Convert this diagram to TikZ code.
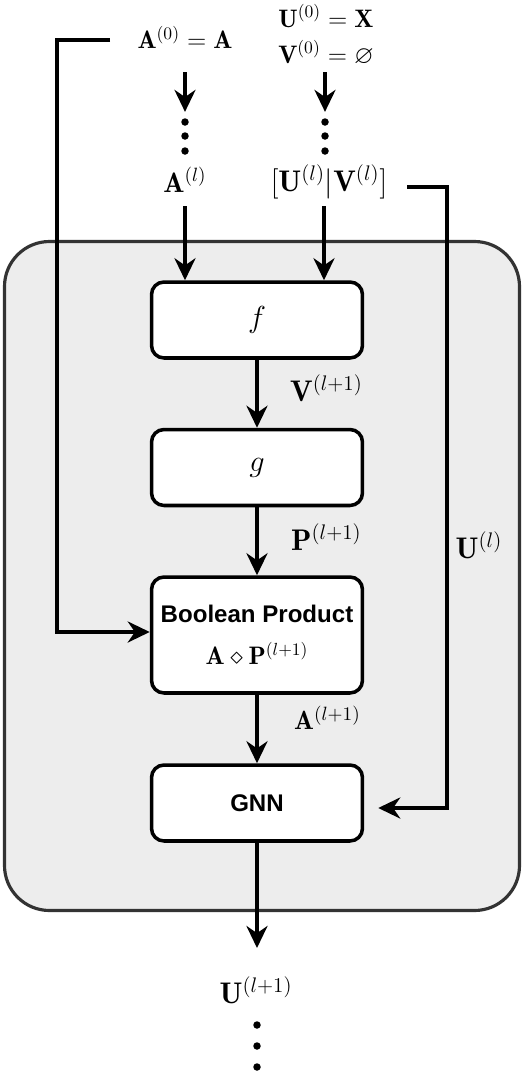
\documentclass[tikz,border=0pt]{standalone}
\usepackage{amsmath,amssymb}
\usepackage{fontspec}
\newfontfamily\blockfont{Liberation Sans}
\usetikzlibrary{arrows.meta}

\tikzset{
    flow/.style={line width=2.2pt, -{Stealth[length=0.44cm, width=0.42cm]}},
    dot/.style={circle, fill, inner sep=0pt, minimum size=0.15cm},
    big/.style={font=\fontsize{17}{20}\selectfont},
}

\begin{document}
\begin{tikzpicture}[x=0.02cm, y=-0.02cm]
            \useasboundingbox (0,0) rectangle (524,1072);
            \draw[line width=1.8pt, draw=black!80, fill=black!7, rounded corners=0.9cm] (4.5,241.5) rectangle (519.5,910.5);

            \begin{scope}[every node/.style={draw, line width=2pt, fill=white, rounded corners=0.25cm, minimum width=4.22cm, align=center}]

                \node[minimum height=1.52cm, big] (f) at (257,320) {$f$};
                \node[minimum height=1.52cm, big] (g) at (257,467.5) {$g$};
                \node[minimum height=2.32cm, font=\Large] (bool) at (257,635) {{\blockfont\bfseries\fontsize{13.7}{16}\selectfont Boolean Product}\\[6pt] $\mathbf{A}\diamond\mathbf{P}^{(l+1)}$};
                \node[minimum height=1.52cm] (gnn) at (257,803) {\blockfont\bfseries\fontsize{13.7}{16}\selectfont GNN};

            \end{scope}

            \begin{scope}[every node/.style={font=\Large}]

                \node (a0) at (185,37) {$\mathbf{A}^{(0)}=\mathbf{A}$};
                \node (u0) at (326,16) {$\mathbf{U}^{(0)}=\mathbf{X}$};
                \node (v0) at (326,53) {$\mathbf{V}^{(0)}=\varnothing$};
                \node[font=\fontsize{16}{19}\selectfont] (al) at (185,180) {$\mathbf{A}^{(l)}$};
                \node[big] (uvl) at (329,182) {$[\mathbf{U}^{(l)}|\mathbf{V}^{(l)}]$};
                \node[anchor=west, big] (vnext) at (284,388) {$\mathbf{V}^{(l+1)}$};
                \node[anchor=west, big] (pnext) at (285,537) {$\mathbf{P}^{(l+1)}$};
                \node[anchor=west, font=\fontsize{15}{18}\selectfont] (anext) at (288,718) {$\mathbf{A}^{(l+1)}$};
                \node[big] (ul) at (479,545) {$\mathbf{U}^{(l)}$};
                \node[big] (unext) at (256,990) {$\mathbf{U}^{(l+1)}$};

            \end{scope}

            \node[dot] (ad1) at (185,122) {};
            \node[dot] (ad2) at (185,136) {};
            \node[dot] (ad3) at (185,151) {};
            \node[dot] (ud1) at (325,122) {};
            \node[dot] (ud2) at (325,136) {};
            \node[dot] (ud3) at (325,151) {};
            \node[dot] (nd1) at (257,1025) {};
            \node[dot] (nd2) at (257,1046) {};
            \node[dot] (nd3) at (257,1067) {};

            \coordinate (atop) at (185,72);
            \coordinate (utop) at (325,72);
            \coordinate (atail) at (185,206);
            \coordinate (uvtail) at (324,206);
            \coordinate (aleft) at (110,40);
            \coordinate (uvright) at (407,187);
            \coordinate (gnnout) at (257,948);

            % A^(0) and U^(0), V^(0) down to layer l
            \draw[flow, shorten >=0.12cm] (atop) -- (ad1);
            \draw[flow, shorten >=0.12cm] (utop) -- (ud1);
            \draw[flow] (atail) -- (atail |- f.north);
            \draw[flow] (uvtail) -- (uvtail |- f.north);

            % main column
            \draw[flow] (f) -- (g);
            \draw[flow] (g) -- (bool);
            \draw[flow] (bool) -- (gnn);
            \draw[flow] (gnn) -- (gnnout);

            % skip lines
            \draw[flow] (aleft) -- (57,40) |- ([yshift=0.06cm]bool.west);
            \draw[flow, shorten >=0.28cm] (uvright) -- (447,187) |- ([yshift=-0.1cm]gnn.east);
        \end{tikzpicture}
\end{document}
